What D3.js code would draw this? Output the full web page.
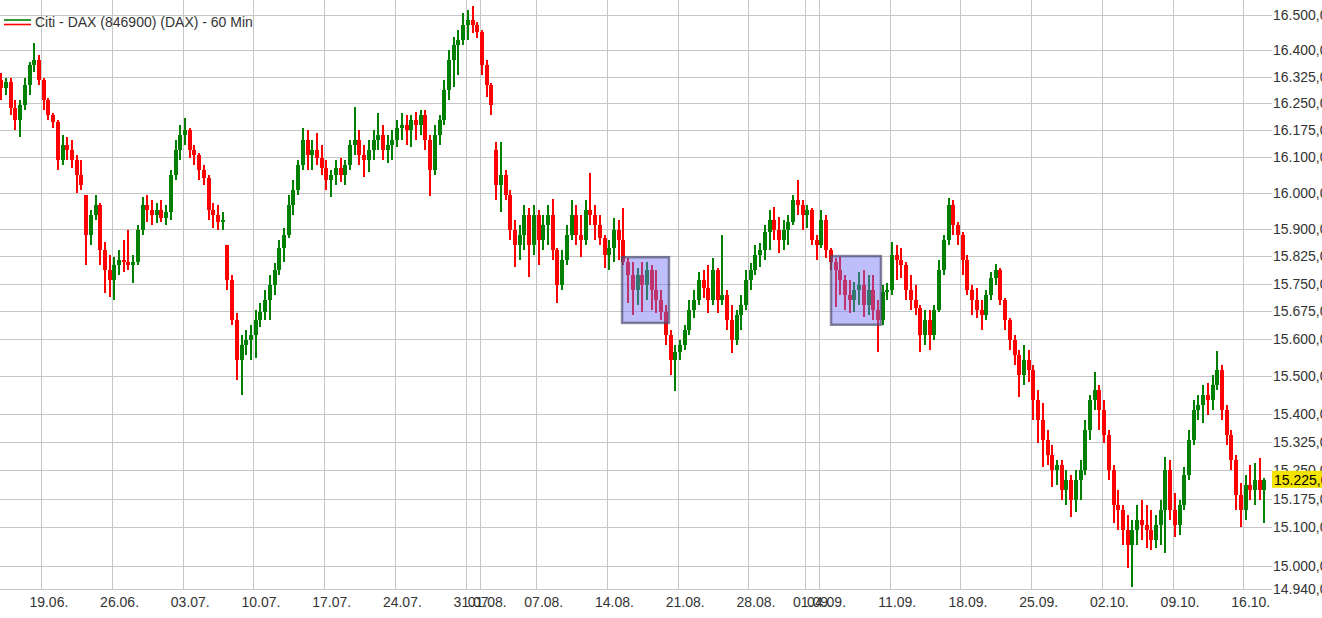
<!DOCTYPE html>
<html><head><meta charset="utf-8">
<script src="https://cdn.jsdelivr.net/npm/d3@7"></script>
<style>html,body{margin:0;padding:0;background:#fff;overflow:hidden}svg{display:block}</style>
</head><body>
<svg id="c" width="1322" height="618"></svg>
<script>
const title = "Citi - DAX (846900) (DAX) - 60 Min";
const days = ["14.06.","15.06.","16.06.","19.06.","20.06.","21.06.","22.06.","23.06.","26.06.","27.06.","28.06.","29.06.","30.06.",
"03.07.","04.07.","05.07.","06.07.","07.07.","10.07.","11.07.","12.07.","13.07.","14.07.","17.07.","18.07.","19.07.","20.07.","21.07.","24.07.","25.07.","26.07.","27.07.","28.07.","31.07.",
"01.08.","02.08.","03.08.","04.08.","07.08.","08.08.","09.08.","10.08.","11.08.","14.08.","15.08.","16.08.","17.08.","18.08.","21.08.","22.08.","23.08.","24.08.","25.08.","28.08.","29.08.","30.08.","31.08.",
"01.09.","04.09.","05.09.","06.09.","07.09.","08.09.","11.09.","12.09.","13.09.","14.09.","15.09.","18.09.","19.09.","20.09.","21.09.","22.09.","25.09.","26.09.","27.09.","28.09.","29.09.",
"02.10.","03.10.","04.10.","05.10.","06.10.","09.10.","10.10.","11.10.","12.10.","13.10.","16.10.","17.10."];
const candlesPerDay = 3;
const opens = [
16315,16293,16310,16237,16203,16245,16301,16358,16372,16315,16259,16217,16198,16091,16133,
16119,16091,16049,15994,15884,15939,15966,15842,15788,15760,15801,15815,15809,15801,15809,
15897,15966,15952,15939,15952,15930,15947,16049,16119,16161,16175,16119,16105,16063,16041,
15952,15939,15919,15856,15760,15652,15544,15585,15598,15612,15652,15674,15706,15747,15788,
15848,15884,15966,16008,16077,16147,16105,16119,16097,16069,16035,16049,16069,16049,16077,
16133,16147,16105,16091,16119,16147,16161,16119,16133,16147,16181,16189,16175,16203,16189,
16217,16147,16063,16161,16203,16287,16372,16414,16429,16471,16486,16471,16451,16358,16301,
16119,16022,16049,15994,15897,15856,15884,15939,15856,15939,15870,15911,15939,15842,15747,
15815,15884,15939,15884,15870,15952,15939,15911,15875,15829,15848,15897,15870,15809,15774,
15733,15774,15747,15788,15733,15706,15674,15612,15544,15566,15585,15625,15679,15706,15760,
15739,15706,15788,15706,15720,15652,15598,15666,15693,15760,15788,15829,15842,15892,15925,
15897,15870,15897,15919,15980,15966,15939,15952,15870,15856,15925,15842,15809,15788,15760,
15720,15706,15733,15747,15693,15733,15679,15652,15728,15733,15829,15815,15801,15733,15706,
15685,15612,15652,15612,15679,15788,15870,15966,15911,15884,15815,15733,15706,15679,15666,
15720,15766,15788,15706,15652,15598,15558,15504,15544,15517,15436,15383,15330,15290,15251,
15264,15198,15224,15172,15224,15251,15357,15436,15463,15410,15344,15251,15159,15145,15093,
15054,15093,15119,15106,15093,15067,15106,15145,15251,15145,15106,15159,15238,15330,15410,
15423,15450,15436,15477,15517,15410,15344,15277,15185,15145,15211,15198,15224,15198];
const highs = [
16336,16321,16321,16259,16259,16321,16366,16420,16386,16321,16265,16223,16203,16161,16155,
16147,16105,16091,15994,15952,15994,15972,15864,15829,15823,15842,15870,15897,15829,15911,
15988,15994,15980,15972,15980,15966,16063,16147,16189,16209,16181,16133,16111,16077,16049,
15972,15966,15947,15856,15774,15671,15612,15625,15639,15679,15698,15733,15774,15807,15870,
15903,15994,16035,16091,16181,16175,16147,16167,16133,16091,16063,16091,16097,16091,16147,
16239,16175,16133,16147,16175,16223,16189,16161,16175,16203,16223,16217,16217,16225,16231,
16231,16161,16189,16217,16315,16400,16437,16457,16506,16514,16526,16480,16457,16372,16307,
16141,16141,16063,16008,15925,15911,15966,15958,15966,15952,15939,15966,15983,15848,15842,
15911,15980,15966,15939,15980,16055,15966,15939,15884,15870,15930,15925,15958,15820,15809,
15793,15809,15809,15801,15788,15733,15693,15625,15585,15598,15639,15706,15733,15782,15788,
15801,15820,15793,15884,15733,15693,15679,15720,15788,15807,15856,15862,15911,15952,15961,
15933,15925,15939,15994,16035,15980,15966,15958,15884,15952,15939,15848,15820,15823,15774,
15760,15755,15782,15788,15774,15774,15706,15747,15752,15864,15856,15848,15809,15774,15747,
15693,15679,15679,15693,15815,15884,15986,15980,15919,15892,15829,15747,15739,15706,15733,
15782,15804,15793,15712,15657,15612,15571,15585,15571,15531,15463,15428,15357,15317,15277,
15277,15251,15238,15251,15277,15383,15450,15512,15477,15436,15357,15264,15198,15159,15132,
15119,15159,15172,15159,15145,15132,15172,15285,15277,15190,15172,15259,15357,15436,15450,
15477,15482,15504,15569,15531,15423,15357,15290,15216,15238,15264,15269,15282,15230];
const lows = [
16259,16273,16217,16175,16155,16231,16273,16338,16301,16231,16203,16181,16063,16077,16091,
16069,16000,16008,15801,15856,15925,15801,15725,15714,15706,15774,15782,15788,15752,15801,
15884,15919,15911,15917,15919,15911,15925,16035,16091,16133,16097,16077,16035,16022,15925,
15903,15897,15897,15733,15639,15490,15450,15558,15544,15549,15633,15652,15652,15720,15774,
15809,15875,15939,15994,16063,16063,16063,16077,16049,16008,15988,16022,16030,16022,16063,
16105,16077,16044,16058,16091,16119,16091,16083,16091,16127,16147,16133,16127,16147,16161,
16119,15991,16049,16133,16189,16259,16296,16330,16414,16429,16448,16434,16330,16268,16217,
15980,15947,15980,15870,15796,15815,15842,15768,15829,15801,15842,15856,15815,15698,15733,
15801,15870,15856,15823,15856,15911,15870,15856,15793,15788,15809,15815,15801,15698,15666,
15693,15674,15706,15679,15671,15652,15585,15504,15460,15544,15571,15612,15657,15693,15712,
15671,15693,15671,15693,15625,15563,15585,15625,15679,15733,15774,15796,15815,15842,15870,
15834,15842,15856,15911,15939,15897,15903,15856,15815,15848,15820,15788,15687,15720,15679,
15671,15674,15693,15660,15666,15652,15566,15639,15706,15720,15760,15766,15706,15679,15666,
15566,15585,15571,15598,15674,15774,15856,15884,15856,15774,15720,15666,15657,15625,15652,
15706,15747,15693,15625,15571,15531,15444,15477,15485,15383,15322,15259,15264,15206,15211,
15172,15159,15127,15140,15172,15238,15330,15410,15357,15322,15224,15111,15093,15054,14994,
14945,15054,15067,15046,15041,15046,15054,15033,15119,15075,15080,15145,15224,15317,15383,
15375,15397,15410,15463,15383,15317,15251,15145,15101,15119,15172,15159,15172,15111];
const closes = [
16293,16310,16237,16203,16245,16301,16358,16372,16315,16259,16217,16198,16091,16133,16119,
16091,16049,16022,15884,15939,15966,15842,15788,15760,15801,15815,15809,15801,15809,15897,
15966,15952,15939,15952,15930,15947,16049,16119,16161,16175,16119,16105,16063,16041,15952,
15939,15919,15925,15760,15652,15544,15585,15598,15612,15652,15674,15706,15747,15788,15848,
15884,15966,16008,16077,16147,16105,16119,16097,16069,16035,16049,16069,16049,16077,16133,
16147,16105,16091,16119,16147,16161,16119,16133,16147,16181,16189,16175,16203,16189,16217,
16147,16063,16161,16203,16287,16372,16414,16429,16471,16486,16471,16451,16358,16301,16245,
16022,16049,15994,15897,15856,15884,15939,15856,15939,15870,15911,15939,15842,15747,15815,
15884,15939,15884,15870,15952,15939,15911,15875,15829,15848,15897,15870,15809,15774,15733,
15774,15747,15788,15733,15706,15674,15612,15544,15566,15585,15625,15679,15706,15760,15739,
15706,15788,15706,15720,15652,15598,15666,15693,15760,15788,15829,15842,15892,15925,15897,
15870,15897,15919,15980,15966,15939,15952,15870,15856,15925,15842,15809,15788,15760,15720,
15706,15733,15747,15693,15733,15679,15652,15728,15733,15829,15815,15801,15733,15706,15685,
15612,15652,15612,15679,15788,15870,15966,15911,15884,15815,15733,15706,15679,15666,15720,
15766,15788,15706,15652,15598,15558,15504,15544,15517,15436,15383,15330,15290,15251,15264,
15198,15224,15172,15224,15251,15357,15436,15463,15410,15344,15251,15159,15145,15093,15054,
15093,15119,15106,15093,15067,15106,15145,15251,15145,15106,15159,15238,15330,15410,15423,
15450,15436,15477,15517,15410,15344,15277,15185,15145,15211,15198,15224,15198,15225];
const yTicks = [16500,16400,16325,16250,16175,16100,16000,15900,15825,15750,15675,15600,15500,15400,15325,15250,15175,15100,15000,14940];
const xTicks = ["19.06.","26.06.","03.07.","10.07.","17.07.","24.07.","31.07.","01.08.","07.08.","14.08.","21.08.","28.08.","01.09.","04.09.","11.09.","18.09.","25.09.","02.10.","09.10.","16.10."];
const lastPrice = 15225;
// highlighted zones: [first day position, last day position] in trading-day units, [upper price, lower price]
const zoneDays = [[44.07,47.39],[58.85,62.38]];
const zonePrices = [[15823,15644],[15826,15639]];

const FONT = "'Liberation Sans', Arial, sans-serif";
const plotR = 1272, plotB = 589;
const svg = d3.select("#c");
const x = d3.scaleLinear().domain([0, days.length]).range([-1.12, 1271.5]);
const y = d3.scaleLog().domain([14940, 16543]).range([plotB, 0]);
const loc = d3.formatLocale({decimal: ",", thousands: ".", grouping: [3], currency: ["", ""]});
const fmt = loc.format(",.2f");

// grid
const grid = svg.append("g").attr("shape-rendering", "crispEdges");
grid.selectAll("line.h").data(yTicks).join("line").attr("class","h")
  .attr("x1", 0).attr("x2", plotR)
  .attr("y1", d => Math.round(y(d)) + 0.5).attr("y2", d => Math.round(y(d)) + 0.5)
  .attr("stroke", "#c6c6c6").attr("stroke-width", 1);
const tickIdx = xTicks.map(t => days.indexOf(t));
grid.selectAll("line.v").data(tickIdx).join("line").attr("class","v")
  .attr("x1", d => Math.round(x(d)) + 0.5).attr("x2", d => Math.round(x(d)) + 0.5)
  .attr("y1", 0).attr("y2", plotB)
  .attr("stroke", "#c6c6c6").attr("stroke-width", 1);

// candles
const n = Math.min(opens.length, highs.length, lows.length, closes.length);
const candles = d3.range(n).map(i => {
  const o = opens[i], c = closes[i];
  return {pos: Math.floor(i / candlesPerDay) + ((i % candlesPerDay) + 0.5) / candlesPerDay,
          o, c, h: Math.max(highs[i], o, c), l: Math.min(lows[i], o, c)};
});
const cg = svg.append("g").attr("shape-rendering", "crispEdges");
const col = d => d.c >= d.o ? "#008000" : "#ff0000";
cg.selectAll("rect.w").data(candles).join("rect").attr("class","w")
  .attr("x", d => Math.round(x(d.pos)) - 1).attr("width", 2)
  .attr("y", d => y(d.h)).attr("height", d => Math.max(1, y(d.l) - y(d.h)))
  .attr("fill", col);
cg.selectAll("rect.b").data(candles).join("rect").attr("class","b")
  .attr("x", d => Math.round(x(d.pos)) - 2).attr("width", 4)
  .attr("y", d => y(Math.max(d.o, d.c))).attr("height", d => Math.max(1, Math.abs(y(d.o) - y(d.c))))
  .attr("fill", col);

// highlighted zones
svg.append("g").selectAll("rect").data(zoneDays).join("rect")
  .attr("x", d => x(d[0])).attr("width", d => x(d[1]) - x(d[0]))
  .attr("y", (d, i) => y(zonePrices[i][0])).attr("height", (d, i) => y(zonePrices[i][1]) - y(zonePrices[i][0]))
  .attr("fill", "rgba(110,110,245,0.45)").attr("stroke", "rgba(70,70,105,0.65)").attr("stroke-width", 2.5);

// y axis (right)
const ya = svg.append("g").attr("transform", `translate(${plotR},0)`)
  .call(d3.axisRight(y).tickValues(yTicks).tickSize(0).tickPadding(1).tickFormat(fmt));
ya.select(".domain").remove();
ya.selectAll("text").attr("font-family", FONT).attr("font-size", 14).attr("fill", "#333");

// x axis (bottom)
const xa = svg.append("g").attr("transform", `translate(0,${plotB})`)
  .call(d3.axisBottom(x).tickValues(tickIdx.map(d => d + 0.5)).tickSize(0).tickPadding(8).tickFormat((d, i) => xTicks[i]));
xa.select(".domain").remove();
xa.selectAll("text").attr("font-family", FONT).attr("font-size", 14).attr("fill", "#333");

// last price label
const ly = y(lastPrice);
svg.append("rect").attr("x", plotR).attr("y", ly - 9).attr("width", 60).attr("height", 17).attr("fill", "#f2e400");
svg.append("text").attr("x", plotR + 2).attr("y", ly + 5).attr("font-family", FONT).attr("font-size", 14)
  .attr("fill", "#000").text(fmt(lastPrice));

// legend
svg.append("line").attr("x1", 4).attr("x2", 31).attr("y1", 20).attr("y2", 20).attr("stroke", "#008000").attr("stroke-width", 1.6);
svg.append("line").attr("x1", 4).attr("x2", 31).attr("y1", 24.5).attr("y2", 24.5).attr("stroke", "#ff0000").attr("stroke-width", 1.6);
svg.append("text").attr("x", 35).attr("y", 27).attr("font-family", FONT).attr("font-size", 14).attr("fill", "#333").text(title);
</script>
</body></html>
